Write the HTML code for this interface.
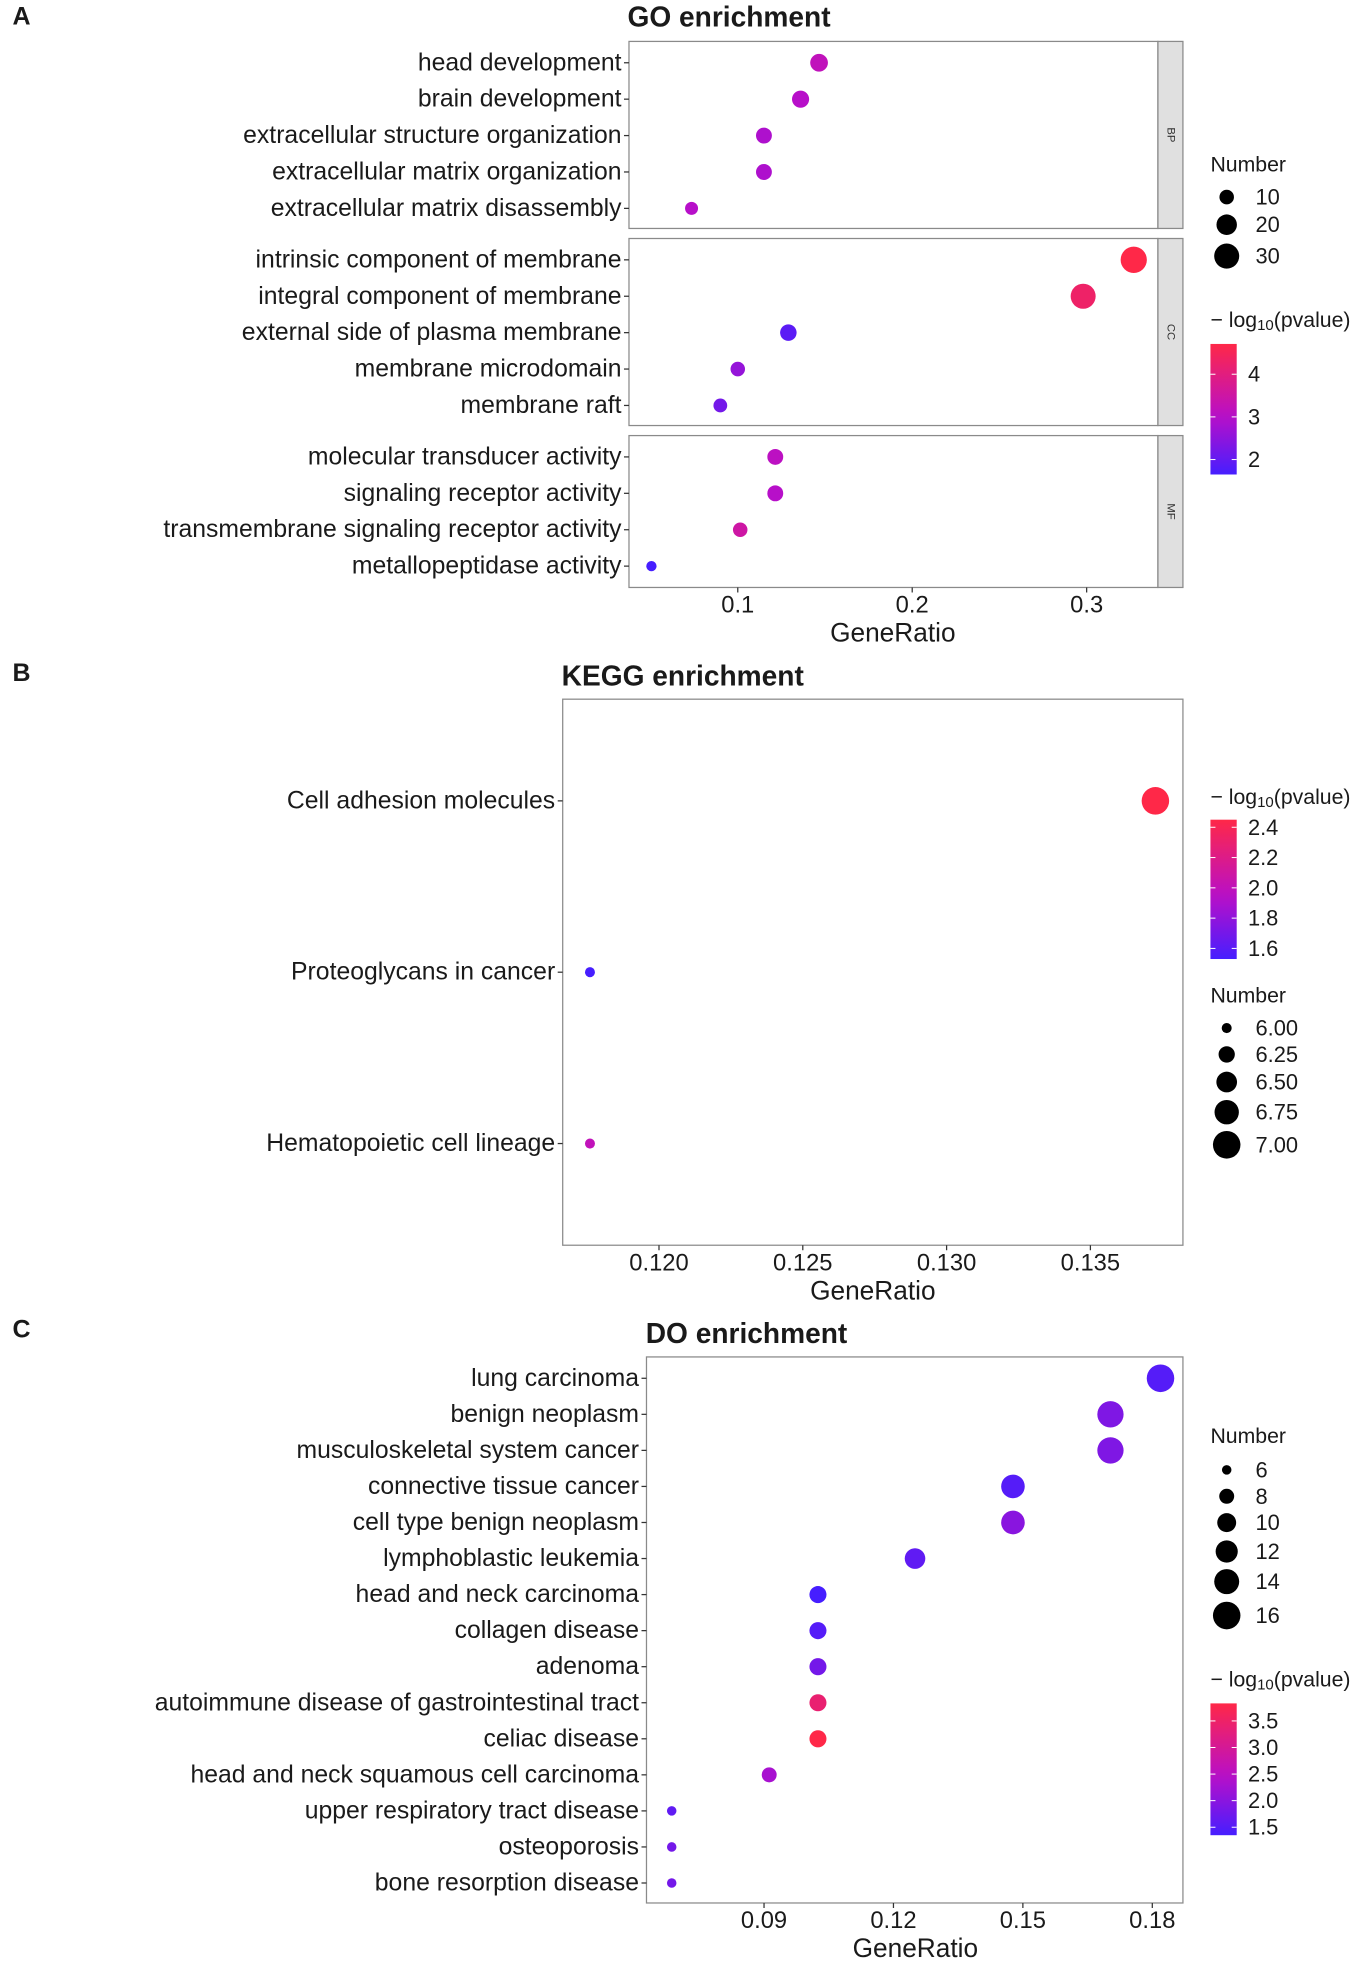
<!DOCTYPE html>
<html><head><meta charset="utf-8">
<style>
html,body{margin:0;padding:0;background:#fff;}
svg{display:block;font-family:"Liberation Sans",Arial,sans-serif;}
</style></head>
<body>
<svg id="fig" width="1358" height="1967" viewBox="0 0 1086 1567" preserveAspectRatio="none" xmlns="http://www.w3.org/2000/svg"></svg>
<script>
// ---- GO data ----
const goTerms = ["head development","brain development","extracellular structure organization","extracellular matrix organization","extracellular matrix disassembly","intrinsic component of membrane","integral component of membrane","external side of plasma membrane","membrane microdomain","membrane raft","molecular transducer activity","signaling receptor activity","transmembrane signaling receptor activity","metallopeptidase activity"];
const goFacet = ["BP","BP","BP","BP","BP","CC","CC","CC","CC","CC","MF","MF","MF","MF"];
const goRatio = [0.1466,0.136,0.115,0.115,0.0735,0.327,0.298,0.129,0.100,0.090,0.1215,0.1215,0.1014,0.0505];
const goCount = [15,14,12,12,8,33,30,13,10,9,12,12,10,5];
const goP = [3.2,3.0,2.9,2.9,3.0,4.71,4.3,1.9,2.6,2.2,3.1,3.0,3.5,1.65];
const goXTicks = [0.1,0.2,0.3];
const goXTickLabels = ["0.1","0.2","0.3"];
const goSizeBreaks = [10,20,30];
const goColorBreaks = [2,3,4];
// ---- KEGG data ----
const keggTerms = ["Cell adhesion molecules","Proteoglycans in cancer","Hematopoietic cell lineage"];
const keggRatio = [0.13726,0.1176,0.1176];
const keggCount = [7,6,6];
const keggP = [2.45,1.53,2.0];
const keggXTicks = [0.120,0.125,0.130,0.135];
const keggXTickLabels = ["0.120","0.125","0.130","0.135"];
const keggSizeBreaks = [6,6.25,6.5,6.75,7];
const keggSizeLabels = ["6.00","6.25","6.50","6.75","7.00"];
const keggColorBreaks = [1.6,1.8,2.0,2.2,2.4];
const keggColorLabels = ["1.6","1.8","2.0","2.2","2.4"];
// ---- DO data ----
const doTerms = ["lung carcinoma","benign neoplasm","musculoskeletal system cancer","connective tissue cancer","cell type benign neoplasm","lymphoblastic leukemia","head and neck carcinoma","collagen disease","adenoma","autoimmune disease of gastrointestinal tract","celiac disease","head and neck squamous cell carcinoma","upper respiratory tract disease","osteoporosis","bone resorption disease"];
const doRatio = [0.1819,0.1703,0.1703,0.1477,0.1477,0.125,0.1025,0.1025,0.1025,0.1025,0.1025,0.0912,0.0686,0.0686,0.0686];
const doCount = [16,15,15,13,13,11,9,9,9,9,9,8,6,6,6];
const doP = [1.5,1.9,1.9,1.5,2.0,1.6,1.35,1.5,1.8,3.4,3.83,2.3,1.6,1.8,1.8];
const doXTicks = [0.09,0.12,0.15,0.18];
const doXTickLabels = ["0.09","0.12","0.15","0.18"];
const doSizeBreaks = [6,8,10,12,14,16];
const doColorBreaks = [1.5,2.0,2.5,3.0,3.5];
const doColorLabels = ["1.5","2.0","2.5","3.0","3.5"];

const NS="http://www.w3.org/2000/svg";
const svg=document.getElementById('fig');
function mk(tag,attrs,parent){const e=document.createElementNS(NS,tag);for(const k in attrs)e.setAttribute(k,attrs[k]);(parent||svg).appendChild(e);return e;}
function txt(s,x,y,size,anchor,weight,name){const t=mk('text',{x:x,y:y,'font-size':size,'text-anchor':anchor||'start','font-weight':weight||'normal',fill:'#1a1a1a','dominant-baseline':'central'});t.textContent=s;


return t;}
function lerp(a,b,t){return a+(b-a)*t;}
function colorOf(v,lo,hi){let t=(v-lo)/(hi-lo);t=Math.max(0,Math.min(1,t));
 const c0=[70,30,255],c1=[185,15,200],c2=[255,40,72];let a,b,u;
 if(t<0.45){a=c0;b=c1;u=t/0.45;}else{a=c1;b=c2;u=(t-0.45)/0.55;}
 return 'rgb('+Math.round(lerp(a[0],b[0],u))+','+Math.round(lerp(a[1],b[1],u))+','+Math.round(lerp(a[2],b[2],u))+')';}
function sizeFn(lo,hi,rmin,rmax){return n=>Math.sqrt(rmin*rmin+(n-lo)/(hi-lo)*(rmax*rmax-rmin*rmin));}
const LX=971;
function colorbar(x,y0,y1,lo,hi,breaks,labels,name){
 const g=mk('g',{});
 
 
 const id='grad'+name;const defs=mk('defs',{},g);const lg=mk('linearGradient',{id:id,x1:0,y1:1,x2:0,y2:0},defs);
 for(let i=0;i<=10;i++){mk('stop',{offset:i/10,'stop-color':colorOf(lo+(hi-lo)*i/10,lo,hi)},lg);}
 mk('rect',{x:x,y:y0,width:21,height:y1-y0,fill:'url(#'+id+')'},g);
 breaks.forEach((b,i)=>{const yy=y1-(b-lo)/(hi-lo)*(y1-y0);
  mk('line',{x1:x,x2:x+4,y1:yy,y2:yy,stroke:'#fff','stroke-width':0.8},g);mk('line',{x1:x+17,x2:x+21,y1:yy,y2:yy,stroke:'#fff','stroke-width':0.8},g);
  txt(labels?labels[i]:String(b),x+30,yy,17.5,'start','normal','colorbar-label');});
}
function colorTitle(x,y,name){const t=mk('text',{x:x-3,y:y,'font-size':17,fill:'#1a1a1a','dominant-baseline':'central'});
 
 
 t.innerHTML='\u2212 log<tspan font-size="12" dy="4">10</tspan><tspan dy="-4">(pvalue)</tspan>';}
function sizeLegend(x,titleY,ys,breaks,labels,rfn,name){
 const g=mk('g',{});
 
 
 txt('Number',x-3,titleY,17,'start','normal','size-legend-title');
 breaks.forEach((b,i)=>{mk('circle',{cx:x+10,cy:ys[i],r:rfn(b),fill:'#000'},g);txt(labels?labels[i]:String(b),x+33,ys[i],17.5,'start','normal','size-legend-label');});
}
function panelBox(x0,y0,x1,y1,name){const r=mk('rect',{x:x0,y:y0,width:x1-x0,height:y1-y0,fill:'#fff',stroke:'#8a8a8a','stroke-width':1});
 
 }
function xAxis(xs,ticks,labels,yBottom,tickY,titleX,titleY){
 ticks.forEach((t,i)=>{const x=xs(t);mk('line',{x1:x,x2:x,y1:yBottom,y2:yBottom+4,stroke:'#333'});txt(labels[i],x,tickY,19,'middle','normal','x-tick-label');});
 txt('GeneRatio',titleX,titleY,21,'middle','normal','x-axis-title');}
function yLabel(s,xAxisLeft,y){mk('line',{x1:xAxisLeft-4,x2:xAxisLeft,y1:y,y2:y,stroke:'#333'});txt(s,xAxisLeft-6,y,19.8,'end','normal','y-category-label');}

// ===== Panel A: GO =====
txt('A',10,13,20,'start','bold','panel-label-a');
txt('GO enrichment',583,13,22.5,'middle','bold','go-chart-title');
const goX=v=>590+(v-0.1)*1395;
const goR=sizeFn(10,30,5.8,10);
const goLo=Math.min(...goP),goHi=Math.max(...goP);
const facets={BP:[33,182,50],CC:[190,339,207],MF:[347,468,364]};
Object.keys(facets).forEach(f=>{const [a,b]=facets[f];panelBox(503,a,926,b,'go-facet-panel-'+f.toLowerCase());
 const s=mk('rect',{x:926,y:a,width:20,height:b-a,fill:'#e0e0e0',stroke:'#8a8a8a'});
 
 
 const t=mk('text',{x:936,y:(a+b)/2,'font-size':9,'text-anchor':'middle','dominant-baseline':'central',fill:'#333',transform:'rotate(90 936 '+((a+b)/2)+')'});t.textContent=f;
 
 });
const facetIdx={BP:0,CC:0,MF:0};
goTerms.forEach((term,i)=>{const f=goFacet[i];const y=facets[f][2]+29*facetIdx[f];facetIdx[f]++;
 yLabel(term,503,y);
 const c=mk('circle',{cx:goX(goRatio[i]),cy:y,r:goR(goCount[i]),fill:colorOf(goP[i],goLo,goHi)});
 
 });
xAxis(goX,goXTicks,goXTickLabels,468,482,714,504);
sizeLegend(LX,131,[157,179,204],goSizeBreaks,null,goR,'go-size-legend');
colorTitle(LX,255,'go-color-legend-title');
colorbar(LX-3,274,378,goLo,goHi,goColorBreaks,null,'go-colorbar');

// ===== Panel B: KEGG =====
txt('B',10,536,20,'start','bold','panel-label-b');
txt('KEGG enrichment',546,538,22.5,'middle','bold','kegg-chart-title');
const keggX=v=>527+(v-0.12)*23000;
const keggR=sizeFn(6,7,4,11);
const kLo=Math.min(...keggP),kHi=Math.max(...keggP);
panelBox(450,557,946,992,'kegg-plot-panel');
keggTerms.forEach((term,i)=>{const y=638+136.5*i;yLabel(term,450,y);
 const c=mk('circle',{cx:keggX(keggRatio[i]),cy:y,r:keggR(keggCount[i]),fill:colorOf(keggP[i],kLo,kHi)});
 
 });
xAxis(keggX,keggXTicks,keggXTickLabels,992,1006,698,1028);
colorTitle(LX,635,'kegg-color-legend-title');
colorbar(LX-3,653,764,kLo,kHi,keggColorBreaks,keggColorLabels,'kegg-colorbar');
sizeLegend(LX,793,[819,840,862,886,912],keggSizeBreaks,keggSizeLabels,keggR,'kegg-size-legend');

// ===== Panel C: DO =====
txt('C',10,1059,20,'start','bold','panel-label-c');
txt('DO enrichment',597,1062,22.5,'middle','bold','do-chart-title');
const doX=v=>611+(v-0.09)*3450;
const doR=sizeFn(6,16,3.8,11);
const dLo=Math.min(...doP),dHi=Math.max(...doP);
panelBox(517,1081,946,1516,'do-plot-panel');
doTerms.forEach((term,i)=>{const y=1098+28.72*i;yLabel(term,517,y);
 const c=mk('circle',{cx:doX(doRatio[i]),cy:y,r:doR(doCount[i]),fill:colorOf(doP[i],dLo,dHi)});
 
 });
xAxis(doX,doXTicks,doXTickLabels,1516,1530,732,1552);
sizeLegend(LX,1144,[1171,1192,1213,1236,1260,1287],doSizeBreaks,null,doR,'do-size-legend');
colorTitle(LX,1338,'do-color-legend-title');
colorbar(LX-3,1357,1462,dLo,dHi,doColorBreaks,doColorLabels,'do-colorbar');
</script>
</body></html>
